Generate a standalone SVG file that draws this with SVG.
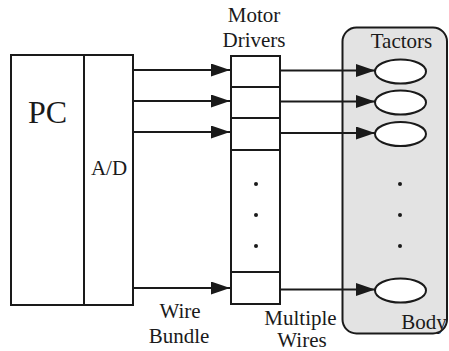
<svg xmlns="http://www.w3.org/2000/svg" width="449" height="351" viewBox="0 0 449 351">
<defs>
<style>
.s{fill:none;stroke:#1a1a1a;stroke-width:2}
.w{fill:#fff;stroke:#1a1a1a;stroke-width:2}
.t{font-family:'Liberation Serif','DejaVu Serif','Times New Roman',serif;font-size:21px;fill:#1a1a1a;text-anchor:middle}
.c{stroke:#1a1a1a;stroke-width:2;fill:none;marker-end:url(#ah)}
.d{fill:#1a1a1a}
</style>
<marker id="ah" viewBox="0 0 19 13" refX="19" refY="6.5" markerWidth="19" markerHeight="13" markerUnits="userSpaceOnUse" orient="auto">
<path d="M0,0 L19,6.5 L0,13 Z" fill="#1a1a1a"/>
</marker>
</defs>
<rect width="449" height="351" fill="#fff"/>
<g id="body">
<rect x="342.5" y="27.5" width="104.5" height="306" rx="14" ry="14" fill="#e3e3e3" stroke="#1a1a1a" stroke-width="2"/>
<text class="t" x="401.5" y="48">Tactors</text>
<text class="t" x="424" y="329">Body</text>
<circle class="d" cx="400" cy="184" r="2"/>
<circle class="d" cx="400" cy="215" r="2"/>
<circle class="d" cx="400" cy="246" r="2"/>
</g>
<g id="pc">
<rect class="w" x="11" y="55" width="122" height="250"/>
<line class="s" x1="84" y1="55" x2="84" y2="305"/>
<text class="t" x="47.5" y="123" style="font-size:32px">PC</text>
<text class="t" x="109" y="175">A/D</text>
</g>
<g id="drivers">
<rect class="w" x="231" y="56" width="49" height="248"/>
<line class="s" x1="231" y1="87" x2="280" y2="87"/>
<line class="s" x1="231" y1="118" x2="280" y2="118"/>
<line class="s" x1="231" y1="150" x2="280" y2="150"/>
<line class="s" x1="231" y1="272" x2="280" y2="272"/>
<circle class="d" cx="256" cy="184" r="2"/>
<circle class="d" cx="256" cy="215" r="2"/>
<circle class="d" cx="256" cy="246" r="2"/>
<text class="t" x="254" y="22">Motor</text>
<text class="t" x="254" y="47">Drivers</text>
</g>
<g id="tactor1"><ellipse class="w" cx="400.5" cy="71.5" rx="25.5" ry="12"/></g>
<g id="tactor2"><ellipse class="w" cx="400.5" cy="102.5" rx="25.5" ry="12"/></g>
<g id="tactor3"><ellipse class="w" cx="400.5" cy="134" rx="25.5" ry="12"/></g>
<g id="tactor4"><ellipse class="w" cx="400.5" cy="290.5" rx="25.5" ry="12"/></g>
<g id="connectors">
<line class="c" x1="133" y1="70" x2="230" y2="70"/>
<line class="c" x1="133" y1="101" x2="230" y2="101"/>
<line class="c" x1="133" y1="132" x2="230" y2="132"/>
<line class="c" x1="133" y1="288" x2="230" y2="288"/>
<line class="c" x1="280" y1="70.5" x2="375" y2="70.5"/>
<line class="c" x1="280" y1="101.5" x2="375" y2="101.5"/>
<line class="c" x1="280" y1="133" x2="375" y2="133"/>
<line class="c" x1="280" y1="289.5" x2="375" y2="289.5"/>
<text class="t" x="180" y="318">Wire</text>
<text class="t" x="179" y="343">Bundle</text>
<text class="t" x="300.5" y="325">Multiple</text>
<text class="t" x="302" y="347">Wires</text>
</g>
</svg>
